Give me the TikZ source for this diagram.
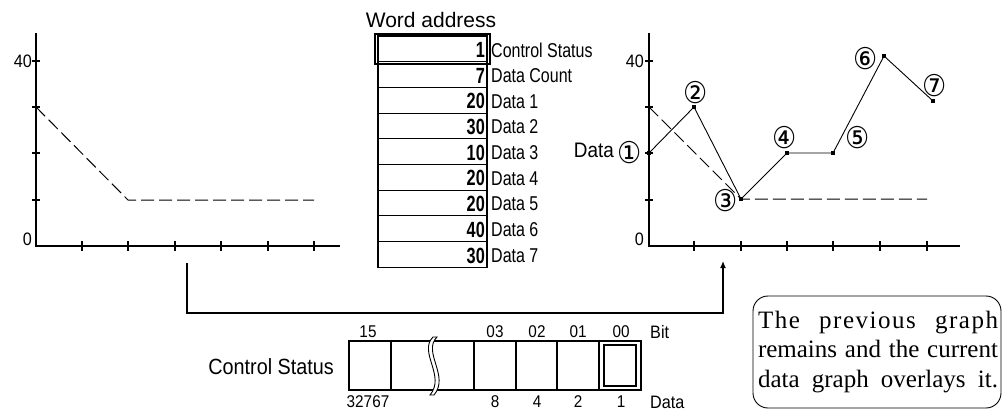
\documentclass[tikz,border=0pt]{standalone}
\usepackage{fontspec}
\setmainfont{Liberation Sans}
\newfontfamily\narrowf[FakeStretch=0.8]{Liberation Sans}
\newfontfamily\numf[FakeStretch=0.74]{Liberation Sans}
\newfontfamily\midf[FakeStretch=0.9]{Liberation Sans}
\newfontfamily\serf{Liberation Serif}
\newfontfamily\serfsp[LetterSpace=6]{Liberation Serif}
\newfontfamily\dvs[FakeStretch=0.9]{DejaVu Sans}
\usetikzlibrary{arrows.meta}
\tikzset{
  axisline/.style={line width=1.6pt},
  ytk/.style={line width=2pt},
  xtk/.style={line width=2.6pt},
  oldgraph/.style={line width=1pt, dash pattern=on 13pt off 5pt},
  newgraph/.style={line width=0.9pt},
  marker/.style={fill, rectangle, minimum size=4pt, inner sep=0pt},
  axlbl/.style={font=\midf\fontsize{18}{18}\selectfont, inner sep=0pt},
  circ/.style={font=\dvs\fontsize{30}{30}\selectfont, inner sep=0pt},
  cell/.style={line width=1.1pt},
  num/.style={font=\numf\bfseries\fontsize{22}{22}\selectfont, inner sep=0pt, anchor=east},
  rowlbl/.style={font=\narrowf\fontsize{20}{20}\selectfont, inner sep=0pt, anchor=west},
  small/.style={font=\midf\fontsize{17}{17}\selectfont, inner sep=0pt},
  note/.style={draw, line width=0.9pt, rounded corners=15pt, inner sep=0pt}
}
\begin{document}
\begin{tikzpicture}[x=1pt,y=-1pt]
\useasboundingbox (0,0) rectangle (1003,410);

% ---------- left graph ----------
\draw[axisline] (36,33) -- (36,246) -- (340,246);
\foreach \yy in {61,107,153,200} \draw[ytk] (32,\yy) -- (40,\yy);
\foreach \xx in {82,128,175,221,268,314} \draw[xtk] (\xx,241) -- (\xx,251);
\node[axlbl, anchor=east] (l40) at (32,61) {40};
\node[axlbl, anchor=east] (l0) at (32,239) {0};
\coordinate (la) at (36,107);
\coordinate (lb) at (128,200);
\coordinate (lc) at (314,200);
\draw[oldgraph] (la) -- (lb) -- (lc);

% ---------- word address table ----------
\node[font=\fontsize{21}{21}\selectfont, inner sep=0pt] (wa) at (431,20) {Word address};
\foreach \i/\v/\t in {0/1/Control Status,1/7/Data Count,2/20/Data 1,3/30/Data 2,4/10/Data 3,5/20/Data 4,6/20/Data 5,7/40/Data 6,8/30/Data 7}{
  \pgfmathsetmacro{\ytop}{36+25.7*\i}
  \pgfmathsetmacro{\ybot}{36+25.7*(\i+1)}
  \pgfmathsetmacro{\ymid}{36+25.7*(\i+0.5)}
  \draw[cell] (378,\ytop) rectangle (487,\ybot);
  \node[num] (n\i) at (485,\ymid+1) {\v};
  \node[rowlbl] (t\i) at (491,\ymid+1) {\t};
}
\draw[line width=2.6pt] (375,34) rectangle (490,64);

% ---------- right graph ----------
\draw[axisline] (649,33) -- (649,246) -- (960,246);
\foreach \yy in {61,107,153,200} \draw[ytk] (645,\yy) -- (653,\yy);
\foreach \xx in {694,741,787,833,880,927} \draw[xtk] (\xx,241) -- (\xx,251);
\node[axlbl, anchor=east] (r40) at (644,61) {40};
\node[axlbl, anchor=east] (r0) at (644,239) {0};
\coordinate (ra) at (649,107);
\coordinate (rb) at (741,199);
\coordinate (rc) at (927,199);
\draw[oldgraph] (ra) -- (rb) -- (rc);
\coordinate (p1) at (649,153);
\coordinate (p2) at (694,107);
\coordinate (p3) at (741,199);
\coordinate (p4) at (787,153);
\coordinate (p5) at (833,153);
\coordinate (p6) at (884,56);
\coordinate (p7) at (933,101);
\draw[newgraph] (p1) -- (p2) -- (p3) -- (p4) -- (p5) -- (p6) -- (p7);
\foreach \k in {1,...,7} \node[marker] (m\k) at (p\k) {};
\node[font=\midf\fontsize{21}{21}\selectfont, inner sep=0pt, anchor=east] (dlab) at (614,150) {Data};
\node[circ] (c1) at (630,153) {①};
\node[circ] (c2) at (696,93) {②};
\node[circ] (c3) at (726,201) {③};
\node[circ] (c4) at (785,138) {④};
\node[circ] (c5) at (858,138) {⑤};
\node[circ] (c6) at (866,59) {⑥};
\node[circ] (c7) at (935,86) {⑦};

% ---------- connector ----------
\coordinate (cs) at (187,263);
\coordinate (ce) at (723,261);
\draw[line width=1.3pt, -{Latex[length=7pt,width=6pt]}] (cs) -- (187,313) -| (ce);

% ---------- control status register ----------
\node[font=\midf\fontsize{22}{22}\selectfont, inner sep=0pt, anchor=east] (csl) at (334,367) {Control Status};
\draw[cell] (349,341) rectangle (641,390);
\foreach \xx in {391,474,516,557,599} \draw[cell] (\xx,341) -- (\xx,390);
\draw[line width=2.6pt] (604,345) rectangle (636,386);
\draw[line width=0.9pt, fill=white] (433,337) .. controls (418,352) and (446,376) .. (430,395)
  -- (434,395) .. controls (450,376) and (422,352) .. (437,337) -- cycle;
\foreach \xx/\b/\d in {368/15/32767,495/03/8,537/02/4,578/01/2,621/00/1}{
  \node[small] (b\b) at (\xx,332) {\b};
  \node[small] (d\b) at (\xx,402) {\d};
}
\node[small, anchor=west, font=\midf\fontsize{18}{18}\selectfont] (bit) at (650,332) {Bit};
\node[small, anchor=west, font=\midf\fontsize{18}{18}\selectfont] (dat) at (650,402) {Data};

% ---------- note ----------
\node[note, minimum width=248pt, minimum height=112pt] (nb) at (877,352) {};
\node[font=\serf\fontsize{25}{29.5}\selectfont, inner sep=0pt, align=center] (nt) at (878,352) {\makebox[240pt][s]{\serfsp The previous graph}\\\makebox[240pt][s]{remains and the current}\\\makebox[240pt][s]{data graph overlays it.}};
\end{tikzpicture}
\end{document}
